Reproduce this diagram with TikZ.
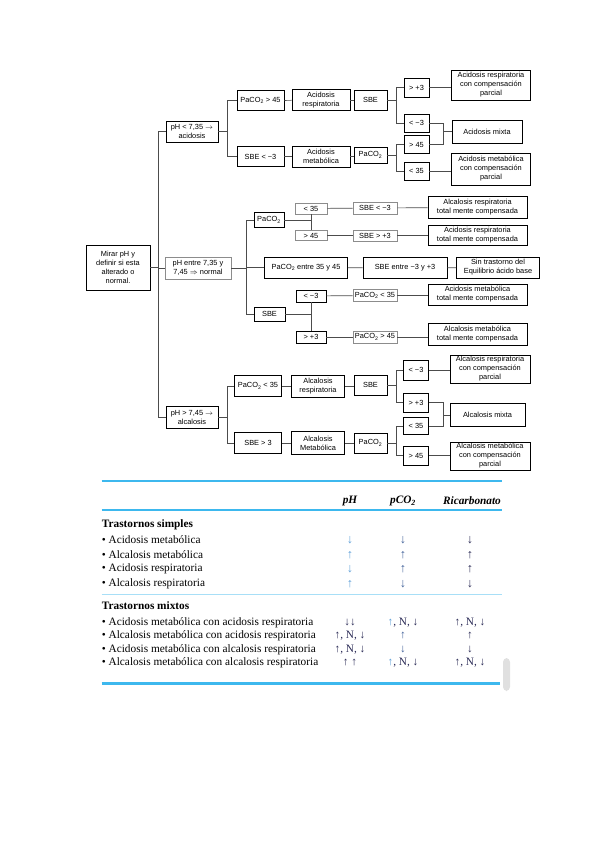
\documentclass[tikz,border=0pt]{standalone}
\usepackage{fontspec}
\setmainfont{Liberation Serif}
\newfontfamily\tsans{Liberation Sans}
\definecolor{skyb}{HTML}{3DB8EE}
\definecolor{lblue}{HTML}{5E9FD8}
\definecolor{mblue}{HTML}{3F5F98}
\definecolor{navy}{HTML}{2A2A55}
\begin{document}
\begin{tikzpicture}[x=1pt,y=-1pt,
  bx/.style={draw=black, line width=0.6pt, inner sep=0.5pt, align=center, fill=white,
    font=\tsans\fontsize{7.4}{9}\selectfont},
  gbx/.style={bx, draw=black!45},
  sz/.style 2 args={minimum width=#1pt, minimum height=#2pt},
  cn/.style={draw=black!70, line width=0.7pt},
  tt/.style={anchor=west, inner sep=0pt, font=\fontsize{11.3}{12}\selectfont},
  hd/.style={inner sep=0pt, font=\fontsize{11.3}{12}\selectfont\bfseries\itshape},
  vl/.style={inner sep=0pt, font=\fontsize{11.3}{12}\selectfont},
  av/.style={inner sep=0pt, font=\fontsize{12.5}{12}\selectfont\bfseries},
  bl/.style={draw=skyb, line width=1.7pt}]
\useasboundingbox (0,0) rectangle (599,848);

% ---------- tree ----------
\node[bx, sz={64}{45}] (root) at (118,267.5) {Mirar pH y\\definir si esta\\alterado o\\normal.};
\node[bx, sz={52}{21}] (acid) at (192,131.5) {pH < 7,35 $\rightarrow$\\acidosis};
\node[gbx, sz={66}{22}] (norm) at (198,268) {pH entre 7,35 y\\7,45 $\Rightarrow$ normal};
\node[bx, sz={52}{22}] (alc) at (192,417) {pH > 7,45 $\rightarrow$\\alcalosis};

% acidosis
\node[bx, sz={47}{20}] (a1) at (260.5,100.7) {PaCO\textsubscript{2} > 45};
\node[bx, sz={47}{20}] (a2) at (260.5,156.7) {SBE < −3};
\node[bx, sz={58}{21}] (a3) at (321,100) {Acidosis\\respiratoria};
\node[bx, sz={58}{21}] (a4) at (321,156.7) {Acidosis\\metabólica};
\node[bx, sz={33}{20}] (a5) at (370.5,100) {SBE};
\node[bx, sz={33}{16}] (a6) at (370.5,155) {PaCO\textsubscript{2}};
\node[bx, sz={25}{19}] (a7) at (416.5,87.5) {> +3};
\node[bx, sz={25}{18}] (a8) at (416.5,123) {< −3};
\node[bx, sz={25}{18}] (a9) at (416.5,144.5) {> 45};
\node[bx, sz={25}{18}] (a10) at (416.5,171) {< 35};
\node[bx, sz={79}{30}] (a11) at (491,85) {Acidosis respiratoria\\con compensación\\parcial};
\node[bx, sz={70}{23}] (a12) at (487,131.5) {Acidosis mixta};
\node[bx, sz={79}{32}] (a13) at (491,169) {Acidosis metabólica\\con compensación\\parcial};

% normal
\node[bx, sz={30}{15}] (n1) at (269,220) {PaCO\textsubscript{2}};
\node[gbx, sz={32}{11}] (n2) at (311,208.5) {< 35};
\node[gbx, sz={32}{10}] (n3) at (311,235.5) {> 45};
\node[gbx, sz={44}{12}] (n4) at (375,208) {SBE < −3};
\node[gbx, sz={44}{11}] (n5) at (375,235.5) {SBE > +3};
\node[bx, sz={99}{22}] (n6) at (477.5,207.5) {Alcalosis respiratoria\\total mente compensada};
\node[bx, sz={99}{20}] (n7) at (477.5,235) {Acidosis respiratoria\\total mente compensada};
\node[bx, sz={83}{21}] (n8) at (306,267.5) {PaCO\textsubscript{2} entre 35 y 45};
\node[bx, sz={84}{21}] (n9) at (405,268) {SBE entre −3 y +3};
\node[bx, sz={83}{21}] (n10) at (498,267.5) {Sin trastorno del\\Equilibrio ácido base};
\node[bx, sz={31}{14}] (n11) at (269.5,314) {SBE};
\node[bx, sz={30}{12}] (n12) at (311,296) {< −3};
\node[bx, sz={30}{12}] (n13) at (311,337) {> +3};
\node[gbx, sz={44}{12}] (n14) at (375,295.5) {PaCO\textsubscript{2} < 35};
\node[gbx, sz={44}{12}] (n15) at (375,337) {PaCO\textsubscript{2} > 45};
\node[bx, sz={99}{21}] (n16) at (477.5,294.5) {Acidosis metabólica\\total mente compensada};
\node[bx, sz={99}{22}] (n17) at (477.5,334) {Alcalosis metabólica\\total mente compensada};

% alcalosis
\node[bx, sz={47}{21}] (l1) at (258,386) {PaCO\textsubscript{2} < 35};
\node[bx, sz={47}{21}] (l2) at (258,443) {SBE > 3};
\node[bx, sz={53}{22}] (l3) at (318,386) {Alcalosis\\respiratoria};
\node[bx, sz={53}{23}] (l4) at (318,443) {Alcalosis\\Metabólica};
\node[bx, sz={33}{20}] (l5) at (370.5,385) {SBE};
\node[bx, sz={33}{20}] (l6) at (370.5,443) {PaCO\textsubscript{2}};
\node[bx, sz={25}{20}] (l7) at (416,370) {< −3};
\node[bx, sz={25}{19}] (l8) at (416,402.5) {> +3};
\node[bx, sz={25}{17}] (l9) at (416,426) {< 35};
\node[bx, sz={25}{19}] (l10) at (416,455.5) {> 45};
\node[bx, sz={80}{28}] (l11) at (490,369) {Alcalosis respiratoria\\con compensación\\parcial};
\node[bx, sz={75}{23}] (l12) at (487.5,415) {Alcalosis mixta};
\node[bx, sz={80}{28}] (l13) at (490,456) {Alcalosis metabólica\\con compensación\\parcial};

% connectors
\draw[cn] (root.east) -- ++(8,0) coordinate (sp);
\draw[cn] (sp) |- (acid.west);
\draw[cn] (sp) |- (alc.west);
\draw[cn] (sp) |- (norm.west);

\draw[cn] (acid.east) -- ++(9.5,0) coordinate (ja) |- (a1.west);
\draw[cn] (ja) |- (a2.west);
\draw[cn] (a1) -- (a3);
\draw[cn] (a3) -- (a5);
\draw[cn] (a2) -- (a4);
\draw[cn] (a4.east) -- (a4.east -| a6.west);
\draw[cn] (a5.east) -- ++(9,0) coordinate (jb) |- (a7.west);
\draw[cn] (jb) |- (a8.west);
\draw[cn] (a6.east) -- ++(9,0) coordinate (jc) |- (a9.west);
\draw[cn] (jc) |- (a10.west);
\draw[cn] (a7.east) -- (a7.east -| a11.west);
\draw[cn] (a8.east) -- ++(14,0) coordinate (jd) |- (a12.west);
\draw[cn] (a9.east) -| (jd);
\draw[cn] (a10.east) -- (a10.east -| a13.west);

\draw[cn] (norm.east) -- ++(15,0) coordinate (je) |- (n1.west);
\draw[cn] (je) |- (n8.west);
\draw[cn] (je) |- (n11.west);
\draw[cn] (n1.east) -- (n1.east -| n2.south);
\draw[cn] (n2.south) -- (n3.north);
\draw[cn] (n2) -- (n4);
\draw[cn] (n4) -- (n6);
\draw[cn] (n3) -- (n5);
\draw[cn] (n5.east) -- (n5.east -| n7.west);
\draw[cn] (n8) -- (n9);
\draw[cn] (n9) -- (n10);
\draw[cn] (n11.east) -- (n11.east -| n12.south);
\draw[cn] (n12.south) -- (n13.north);
\draw[cn] (n12) -- (n14);
\draw[cn] (n14.east) -- (n14.east -| n16.west);
\draw[cn] (n13) -- (n15);
\draw[cn] (n15.east) -- (n15.east -| n17.west);

\draw[cn] (alc.east) -- ++(9.5,0) coordinate (jf) |- (l1.west);
\draw[cn] (jf) |- (l2.west);
\draw[cn] (l1) -- (l3);
\draw[cn] (l3.east) -- (l3.east -| l5.west);
\draw[cn] (l2) -- (l4);
\draw[cn] (l4) -- (l6);
\draw[cn] (l5.east) -- ++(9,0) coordinate (jg) |- (l7.west);
\draw[cn] (jg) |- (l8.west);
\draw[cn] (l6.east) -- ++(9,0) coordinate (jh) |- (l9.west);
\draw[cn] (jh) |- (l10.west);
\draw[cn] (l7.east) -- (l7.east -| l11.west);
\draw[cn] (l8.east) -- ++(15,0) coordinate (ji) |- (l12.west);
\draw[cn] (l9.east) -| (ji);
\draw[cn] (l10.east) -- (l10.east -| l13.west);

% ---------- table ----------
\draw[bl] (101.7,481.3) -- (502,481.3);
\draw[bl] (101.7,509.7) -- (502,509.7);
\draw[draw=skyb!45, line width=0.7pt] (101.7,594) -- (502,594);
\draw[draw=skyb, line width=2.4pt] (101.7,683.3) -- (500,683.3);
\fill[black!12, rounded corners=4pt] (503,658) rectangle (510,691);

\node[hd] (h1) at (350,501) {pH};
\node[hd] (h2) at (403,501) {pCO\textsubscript{2}};
\node[hd] (h3) at (472,501) {Ricarbonato};

\node[tt, font=\fontsize{11.3}{12}\selectfont\bfseries] (s0) at (101.7,524.7) {Trastornos simples};
\node[tt] (s1) at (101.7,539.7) {• Acidosis metabólica};
\node[tt] (s2) at (101.7,554.7) {• Alcalosis metabólica};
\node[tt] (s3) at (101.7,568.7) {• Acidosis respiratoria};
\node[tt] (s4) at (101.7,584) {• Alcalosis respiratoria};

\node[av, text=lblue] (p1) at (350,539.7) {↓};
\node[av, text=lblue] (p2) at (350,554.7) {↑};
\node[av, text=lblue] (p3) at (350,568.7) {↓};
\node[av, text=lblue] (p4) at (350,584) {↑};
\node[av, text=mblue] (c1) at (403,539.7) {↓};
\node[av, text=mblue] (c2) at (403,554.7) {↑};
\node[av, text=mblue] (c3) at (403,568.7) {↑};
\node[av, text=mblue] (c4) at (403,584) {↓};
\node[av, text=navy] (b1) at (470,539.7) {↓};
\node[av, text=navy] (b2) at (470,554.7) {↑};
\node[av, text=navy] (b3) at (470,568.7) {↑};
\node[av, text=navy] (b4) at (470,584) {↓};

\node[tt, font=\fontsize{11.3}{12}\selectfont\bfseries] (m0) at (101.7,605.7) {Trastornos mixtos};
\node[tt] (m1) at (101.7,622.3) {• Acidosis metabólica con acidosis respiratoria};
\node[tt] (m2) at (101.7,635.7) {• Alcalosis metabólica con acidosis respiratoria};
\node[tt] (m3) at (101.7,649.3) {• Acidosis metabólica con alcalosis respiratoria};
\node[tt] (m4) at (101.7,662.7) {• Alcalosis metabólica con alcalosis respiratoria};

\node[vl, text=navy] (q1) at (350,622.3) {\textbf{↓↓}};
\node[vl, text=navy] (q2) at (350,635.7) {\textbf{↑}, N, \textbf{↓}};
\node[vl, text=navy] (q3) at (350,649.3) {\textbf{↑}, N, \textbf{↓}};
\node[vl, text=navy] (q4) at (350,662.7) {\textbf{↑ ↑}};
\node[vl, text=navy] (r1) at (403,622.3) {\textcolor{lblue}{\textbf{↑}}, N, \textbf{↓}};
\node[vl, text=mblue] (r2) at (403,635.7) {\textbf{↑}};
\node[vl, text=mblue] (r3) at (403,649.3) {\textbf{↓}};
\node[vl, text=navy] (r4) at (403,662.7) {\textcolor{lblue}{\textbf{↑}}, N, \textbf{↓}};
\node[vl, text=navy] (t1) at (470,622.3) {\textbf{↑}, N, \textbf{↓}};
\node[vl, text=navy] (t2) at (470,635.7) {\textbf{↑}};
\node[vl, text=navy] (t3) at (470,649.3) {\textbf{↓}};
\node[vl, text=navy] (t4) at (470,662.7) {\textbf{↑}, N, \textbf{↓}};
\end{tikzpicture}
\end{document}
